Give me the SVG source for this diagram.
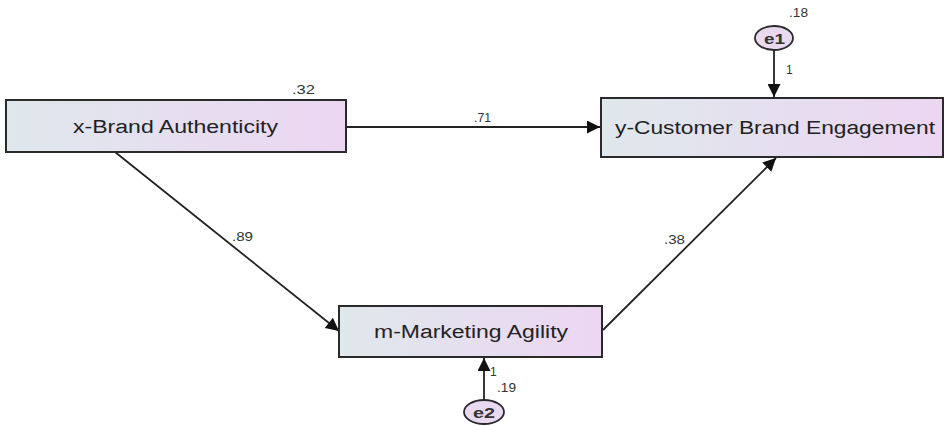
<svg xmlns="http://www.w3.org/2000/svg" width="948" height="426" viewBox="0 0 948 426">
<style>
.box{stroke:#2a2a2a;stroke-width:2;fill:url(#g)}
.lbl{font-family:"Liberation Sans",Arial,sans-serif;font-size:18px;fill:#222}
.num{font-family:"Liberation Sans",Arial,sans-serif;font-size:12px;fill:#333}
.err{stroke:#2a2a2a;stroke-width:1.8;fill:#e8d8f0}
.elbl{font-family:"Liberation Sans",Arial,sans-serif;font-size:15px;font-weight:bold;fill:#333}
.con{stroke:#222;stroke-width:1.8;fill:none;marker-end:url(#ah)}
</style>
<defs>
<linearGradient id="g" x1="0" y1="0" x2="1" y2="0">
<stop offset="0" stop-color="#dfe8ec"/>
<stop offset="1" stop-color="#ecd6f2"/>
</linearGradient>
<marker id="ah" viewBox="0 0 10 10" refX="10" refY="5" markerWidth="16" markerHeight="13" markerUnits="userSpaceOnUse" orient="auto">
<path d="M0,0 L10,5 L0,10 z" fill="#111"/>
</marker>
</defs>
<rect width="948" height="426" fill="#fff"/>
<g id="connectors">
<line class="con" x1="346" y1="127" x2="600" y2="127"/>
<line class="con" x1="115" y1="152" x2="339" y2="331"/>
<line class="con" x1="603" y1="330" x2="776" y2="158"/>
<line class="con" x1="774" y1="50" x2="774" y2="97"/>
<line class="con" x1="484" y1="401" x2="484" y2="358"/>
<text class="num" x="474" y="122" textLength="17" lengthAdjust="spacingAndGlyphs">.71</text>
<text class="num" x="232" y="241" textLength="21" lengthAdjust="spacingAndGlyphs">.89</text>
<text class="num" x="664" y="244" textLength="21" lengthAdjust="spacingAndGlyphs">.38</text>
<text class="num" x="786" y="74">1</text>
<text class="num" x="490" y="376">1</text>
</g>
<g id="x">
<rect class="box" x="6" y="100" width="340" height="52"/>
<text class="lbl" x="73" y="133" textLength="205" lengthAdjust="spacingAndGlyphs">x-Brand Authenticity</text>
<text class="num" x="292" y="94" textLength="23" lengthAdjust="spacingAndGlyphs">.32</text>
</g>
<g id="y">
<rect class="box" x="601" y="98" width="342" height="59"/>
<text class="lbl" x="615" y="134" textLength="320" lengthAdjust="spacingAndGlyphs">y-Customer Brand Engagement</text>
</g>
<g id="m">
<rect class="box" x="339" y="306" width="263" height="51"/>
<text class="lbl" x="374" y="338" textLength="194" lengthAdjust="spacingAndGlyphs">m-Marketing Agility</text>
</g>
<g id="e1">
<ellipse class="err" cx="774" cy="38" rx="19" ry="12"/>
<text class="elbl" x="764" y="44" textLength="21" lengthAdjust="spacingAndGlyphs">e1</text>
<text class="num" x="789" y="17" textLength="19" lengthAdjust="spacingAndGlyphs">.18</text>
</g>
<g id="e2">
<ellipse class="err" cx="484" cy="412" rx="20" ry="12"/>
<text class="elbl" x="473" y="418" textLength="22" lengthAdjust="spacingAndGlyphs">e2</text>
<text class="num" x="497" y="392" textLength="19" lengthAdjust="spacingAndGlyphs">.19</text>
</g>
</svg>
